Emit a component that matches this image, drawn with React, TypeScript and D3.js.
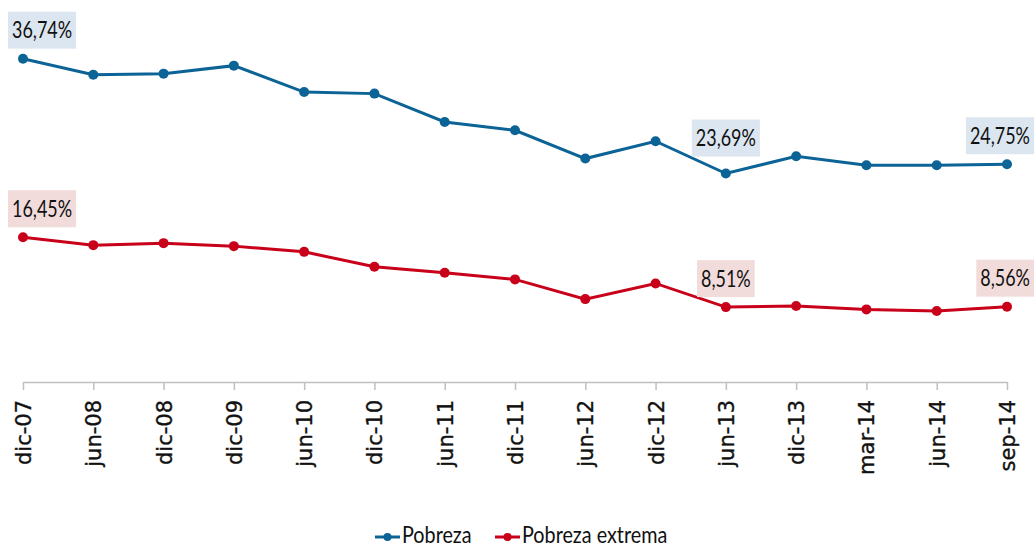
import React, { useEffect, useRef } from 'react';
import * as d3 from 'd3';

const categories = [
  'dic-07', 'jun-08', 'dic-08', 'dic-09', 'jun-10', 'dic-10', 'jun-11', 'dic-11',
  'jun-12', 'dic-12', 'jun-13', 'dic-13', 'mar-14', 'jun-14', 'sep-14'
];

const pobreza = [
  36.74, 34.92, 35.04, 35.95, 32.95, 32.77, 29.55, 28.6,
  25.39, 27.36, 23.69, 25.65, 24.63, 24.63, 24.75
];

const pobrezaExtrema = [
  16.45, 15.55, 15.78, 15.44, 14.79, 13.09, 12.41, 11.66,
  9.42, 11.2, 8.51, 8.63, 8.25, 8.06, 8.56
];

// indices of points that carry a value label
const labelled = [0, 10, 14];

const WIDTH = 1034;
const HEIGHT = 549;
const margin = { top: 30, right: 27, bottom: 167, left: 23 };

const BLUE = '#0b6396';
const RED = '#c8001a';
const LABEL_FONT = "Lato, 'Liberation Sans', sans-serif";
const SQUEEZE = 0.78; // calibri-ish narrowing for value labels
const LEGEND_SQUEEZE = 0.86;

const fmt = (v: number) => v.toFixed(2).replace('.', ',') + '%';

export default function App() {
  const svgRef = useRef<SVGSVGElement>(null);

  useEffect(() => {
    const svg = d3.select(svgRef.current);
    svg.selectAll('*').remove();

    const x = d3
      .scalePoint<string>()
      .domain(categories)
      .range([margin.left, WIDTH - margin.right]);

    const y = d3
      .scaleLinear()
      .domain([0, 40])
      .range([HEIGHT - margin.bottom, margin.top]);

    const axisY = y(0);

    // x axis
    const axis = svg
      .append('g')
      .attr('transform', `translate(0,${axisY})`)
      .call(d3.axisBottom(x).tickSize(8).tickSizeOuter(0).tickPadding(0));
    axis.select('.domain').attr('stroke', '#bfbfbf').attr('stroke-width', 1.5);
    axis.selectAll('.tick line').attr('stroke', '#bfbfbf').attr('stroke-width', 1.5);
    axis
      .selectAll<SVGTextElement, string>('.tick text')
      .attr('transform', 'rotate(-90)')
      .attr('x', -18)
      .attr('y', 0)
      .attr('dy', '0.36em')
      .attr('text-anchor', 'end')
      .attr('fill', '#111')
      .attr('stroke', '#111')
      .attr('stroke-width', 0.35)
      .attr('font-family', "'DejaVu Sans', Verdana, sans-serif")
      .attr('font-size', 21);

    const series = [
      { name: 'Pobreza', values: pobreza, color: BLUE, box: '#dce6f1' },
      { name: 'Pobreza extrema', values: pobrezaExtrema, color: RED, box: '#f2dcdb' }
    ];

    const line = d3
      .line<number>()
      .x((_, i) => x(categories[i]) as number)
      .y(d => y(d));

    series.forEach(s => {
      const g = svg.append('g');
      g.append('path')
        .attr('d', line(s.values))
        .attr('fill', 'none')
        .attr('stroke', s.color)
        .attr('stroke-width', 3);
      g.selectAll('circle')
        .data(s.values)
        .join('circle')
        .attr('cx', (_, i) => x(categories[i]) as number)
        .attr('cy', d => y(d))
        .attr('r', 5)
        .attr('fill', s.color);

      // value labels
      labelled.forEach(i => {
        const px = x(categories[i]) as number;
        const py = y(s.values[i]);
        const lg = svg.append('g');
        const rect = lg.append('rect').attr('fill', s.box);
        const t = lg
          .append('text')
          .text(fmt(s.values[i]))
          .attr('font-family', LABEL_FONT)
          .attr('font-size', 23)
          .attr('fill', '#111')
          .attr('text-anchor', 'middle');
        const w = (t.node() as SVGTextElement).getComputedTextLength() * SQUEEZE + 8;
        const h = 37;
        let left = px - w / 2;
        left = Math.max(8, Math.min(WIDTH - w, left));
        const gap = i === 10 && s.name === 'Pobreza' ? 17 : 10;
        const top = py - gap - h;
        rect.attr('x', left).attr('y', top).attr('width', w).attr('height', h);
        t.attr('transform', `translate(${left + w / 2},${top + h / 2}) scale(${SQUEEZE},1)`)
          .attr('dy', '0.36em');
      });
    });

    // legend
    const legend = [
      { name: 'Pobreza', color: BLUE, x0: 375 },
      { name: 'Pobreza extrema', color: RED, x0: 495 }
    ];
    const ly = 537;
    legend.forEach(l => {
      const g = svg.append('g');
      g.append('line')
        .attr('x1', l.x0)
        .attr('x2', l.x0 + 25)
        .attr('y1', ly)
        .attr('y2', ly)
        .attr('stroke', l.color)
        .attr('stroke-width', 3);
      g.append('circle').attr('cx', l.x0 + 12.5).attr('cy', ly).attr('r', 4).attr('fill', l.color);
      g.append('text')
        .attr('transform', `translate(${l.x0 + 27},543) scale(${LEGEND_SQUEEZE},1)`)
        .attr('font-family', LABEL_FONT)
        .attr('font-size', 23)
        .attr('fill', '#111')
        .text(l.name);
    });
  }, []);

  return (
    <svg
      ref={svgRef}
      width={WIDTH}
      height={HEIGHT}
      style={{ position: 'absolute', left: 0, top: 0, background: '#fff' }}
    />
  );
}
